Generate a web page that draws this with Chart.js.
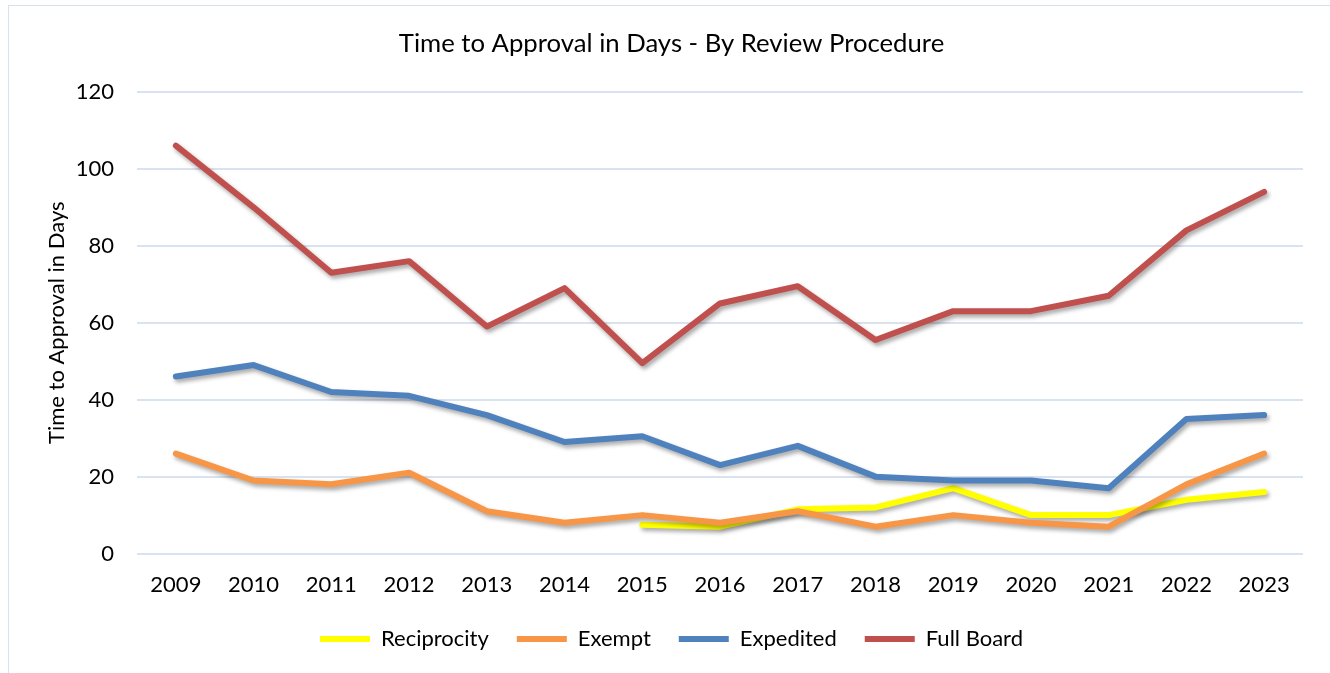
<!DOCTYPE html>
<html>
<head>
<meta charset="utf-8">
<script src="https://cdn.jsdelivr.net/npm/chart.js@4/dist/chart.umd.min.js"></script>
<style>
  html, body { margin: 0; padding: 0; background: #fff; }
  #frame { position: absolute; left: 8px; top: 5px; width: 1330px; height: 700px; border: 1px solid #d9e1ee; box-sizing: border-box; }
  #wrap { position: absolute; left: 0; top: 0; width: 1330px; height: 673px; }
</style>
</head>
<body>
<div id="frame"></div>
<div id="wrap"><canvas id="chart" width="1330" height="673"></canvas></div>
<script>
const years = ['2009', '2010', '2011', '2012', '2013', '2014', '2015', '2016', '2017', '2018', '2019', '2020', '2021', '2022', '2023'];
const reciprocity = [null, null, null, null, null, null, 7.5, 7, 11.5, 12, 17, 10, 10, 14, 16];
const exempt = [26, 19, 18, 21, 11, 8, 10, 8, 11, 7, 10, 8, 7, 18, 26];
const expedited = [46, 49, 42, 41, 36, 29, 30.5, 23, 28, 20, 19, 19, 17, 35, 36];
const fullBoard = [106, 90, 73, 76, 59, 69, 49.5, 65, 69.5, 55.5, 63, 63, 67, 84, 94];

const FONT = 'Lato, "Open Sans", sans-serif';

// soft drop shadow under each line, like the office chart
const shadowPlugin = {
    id: 'lineShadow',
    beforeDatasetDraw(chart) {
        const ctx = chart.ctx;
        ctx.save();
        ctx.shadowColor = 'rgba(0,0,0,0.35)';
        ctx.shadowBlur = 4;
        ctx.shadowOffsetX = 2;
        ctx.shadowOffsetY = 3;
    },
    afterDatasetDraw(chart) {
        chart.ctx.restore();
    }
};

function series(label, data, color, order) {
    return {
        label: label,
        data: data,
        borderColor: color,
        backgroundColor: color,
        borderWidth: 6,
        borderCapStyle: 'round',
        borderJoinStyle: 'round',
        pointRadius: 0,
        tension: 0,
        fill: false,
        spanGaps: false,
        order: order
    };
}

new Chart(document.getElementById('chart'), {
    type: 'line',
    data: {
        labels: years,
        datasets: [
            series('Reciprocity', reciprocity, '#FFFF00', 4),
            series('Exempt', exempt, '#F79646', 3),
            series('Expedited', expedited, '#4F81BD', 2),
            series('Full Board', fullBoard, '#C0504D', 1)
        ]
    },
    plugins: [shadowPlugin],
    options: {
        responsive: false,
        animation: false,
        layout: { padding: { left: 40, right: 27, top: 24, bottom: 13 } },
        plugins: {
            title: {
                display: true,
                text: 'Time to Approval in Days - By Review Procedure',
                color: '#000',
                font: { family: FONT, size: 25.7, weight: 'normal' },
                padding: { top: 4, bottom: 33 }
            },
            legend: {
                position: 'bottom',
                labels: {
                    usePointStyle: true,
                    pointStyle: 'line',
                    pointStyleWidth: 50,
                    color: '#000',
                    font: { family: FONT, size: 22 },
                    padding: 28,
                    sort: (a, b) => a.datasetIndex - b.datasetIndex
                }
            },
            tooltip: { enabled: false }
        },
        scales: {
            x: {
                offset: true,
                grid: { display: false },
                border: { display: false },
                ticks: { color: '#000', font: { family: FONT, size: 22 }, padding: 10, maxRotation: 0 },
                afterFit(scale) { scale.height = scale.height - 8; }
            },
            y: {
                min: 0,
                max: 120,
                border: { display: false },
                grid: { color: '#d9e2f1', lineWidth: 2, drawTicks: false },
                ticks: { stepSize: 20, color: '#000', font: { family: FONT, size: 22 }, padding: 23 },
                title: {
                    display: true,
                    text: 'Time to Approval in Days',
                    color: '#000',
                    font: { family: FONT, size: 22 },
                    padding: { top: 4, bottom: 9 }
                },
                afterFit(scale) { scale.width = 97; }
            }
        }
    }
});
</script>
</body>
</html>
